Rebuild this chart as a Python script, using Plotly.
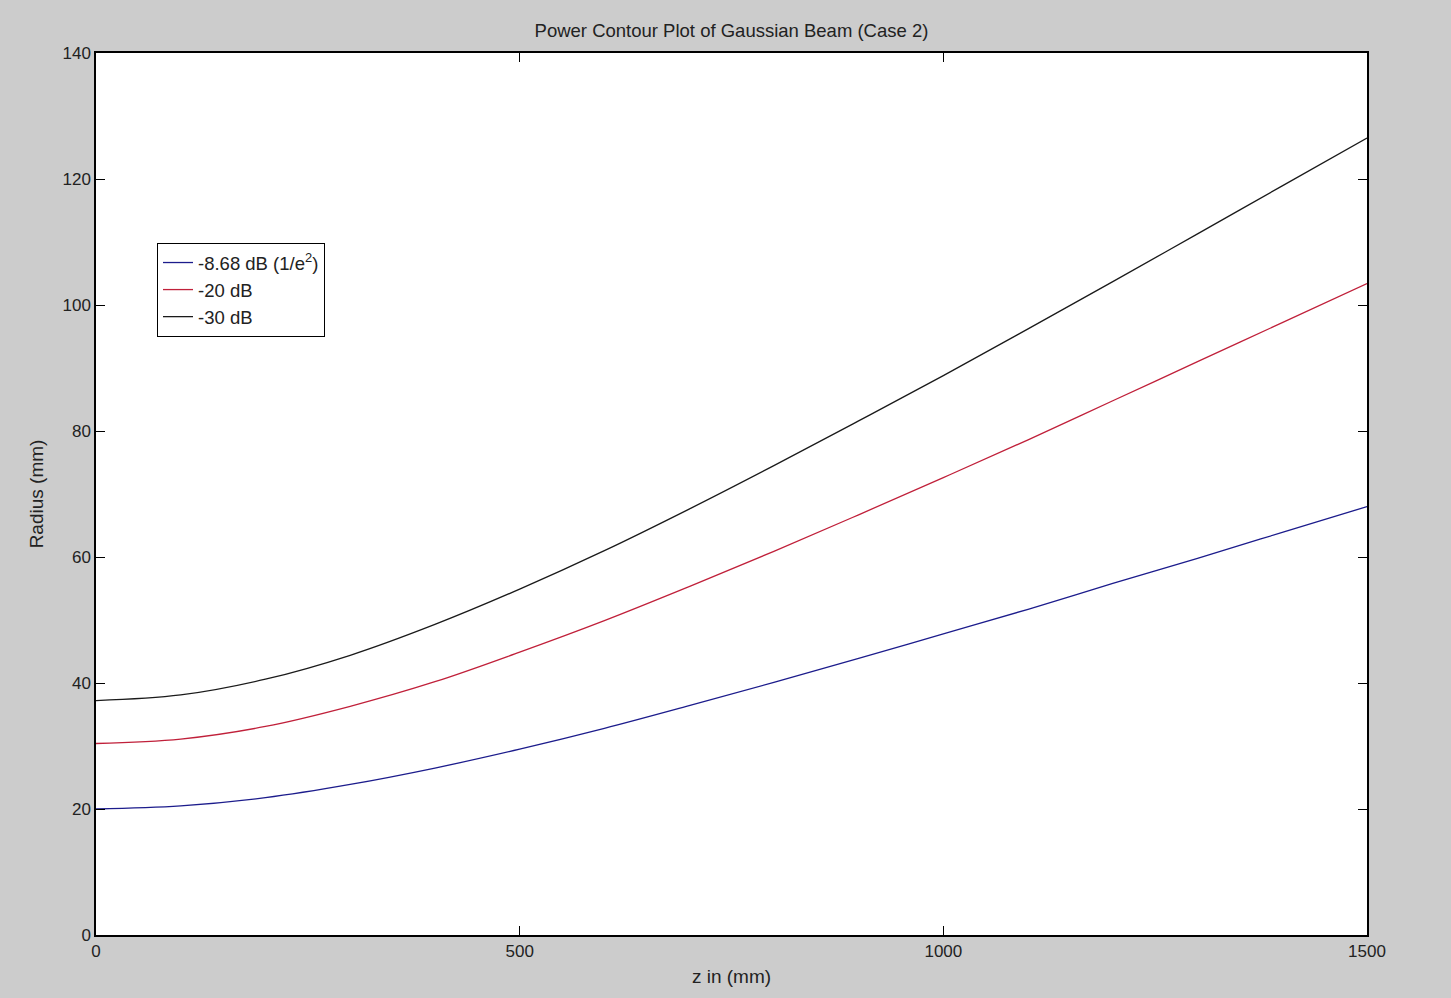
import plotly.graph_objects as go

z_mm = [0, 100, 200, 300, 400, 500, 600, 700, 800, 900, 1000, 1100, 1200, 1300, 1400, 1500]
r_868dB = [20.0, 20.5, 21.8, 23.9, 26.5, 29.5, 32.8, 36.4, 40.1, 43.9, 47.8, 51.7, 55.8, 59.8, 63.9, 68.0]
r_20dB = [30.4, 31.1, 33.1, 36.3, 40.2, 44.9, 49.9, 55.3, 60.9, 66.7, 72.6, 78.6, 84.8, 91.0, 97.2, 103.4]
r_30dB = [37.2, 38.1, 40.6, 44.4, 49.3, 54.9, 61.0, 67.6, 74.5, 81.6, 88.8, 96.2, 103.7, 111.3, 118.9, 126.5]

names = ["-8.68 dB (1/e<sup>2</sup>)", "-20 dB", "-30 dB"]
colors = ["#1c1c8c", "#c0203a", "#1a1a1a"]
series = [r_868dB, r_20dB, r_30dB]

x_ticks = [0, 500, 1000, 1500]
y_ticks = [0, 20, 40, 60, 80, 100, 120, 140]

fig = go.Figure()
for n, c, s in zip(names, colors, series):
    fig.add_trace(go.Scatter(x=z_mm, y=s, mode="lines", name=n,
                             line=dict(color=c, width=1.3, shape="spline")))

font = "Liberation Sans, Arial, sans-serif"
fig.update_layout(
    width=1451, height=998,
    paper_bgcolor="#cccccc", plot_bgcolor="#ffffff",
    margin=dict(l=96, r=84, t=53, b=63),
    font=dict(family=font, size=17, color="#222222"),
    title=dict(text="Power Contour Plot of Gaussian Beam (Case 2)", x=0.5, xref="paper",
               y=1 - 31 / 998, yanchor="middle", font=dict(size=18.5, color="#222222")),
    showlegend=True,
    legend=dict(x=(157 - 96) / 1271, y=(935 - 243) / 882, xanchor="left", yanchor="top",
                bgcolor="#ffffff", bordercolor="#000000", borderwidth=1,
                font=dict(size=18.5, color="#222222"), tracegroupgap=3,
                itemwidth=30, entrywidth=160, entrywidthmode="pixels"),
    xaxis=dict(range=[0, 1500], tickvals=x_ticks, ticks="inside", ticklen=9,
               tickcolor="#000000", mirror="ticks", showline=True, linecolor="#000000",
               linewidth=1.5, showgrid=False, zeroline=False,
               title=dict(text="z in (mm)", standoff=10, font=dict(size=19)),
               tickfont=dict(size=17)),
    yaxis=dict(range=[0, 140], tickvals=y_ticks, ticks="inside", ticklen=9,
               tickcolor="#000000", mirror="ticks", showline=True, linecolor="#000000",
               linewidth=1.5, showgrid=False, zeroline=False,
               title=dict(text="Radius (mm)", standoff=14, font=dict(size=19)),
               tickfont=dict(size=17)),
)

fig.write_html("out.html")
